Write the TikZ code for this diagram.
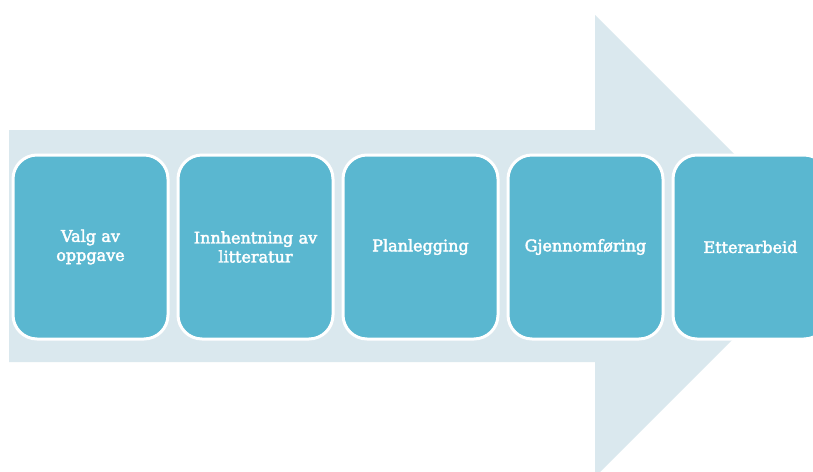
\documentclass[tikz,border=0pt]{standalone}
\usepackage{fontspec}
\setmainfont{DejaVu Serif}
\newfontfamily\boxfont[FakeBold=2.5]{DejaVu Serif}
\definecolor{arrowbg}{HTML}{DAE8EE}
\definecolor{boxfill}{HTML}{5AB7D0}
\begin{document}
\begin{tikzpicture}[x=1pt,y=-1pt,
  stepbox/.style={draw=white,line width=3pt,fill=boxfill,rounded corners=24pt,
    minimum width=155pt,minimum height=184pt,inner sep=0pt,anchor=north west,
    text=white,align=center,font=\boxfont\fontsize{16pt}{19pt}\selectfont,text width=150pt}]
\useasboundingbox (0,0) rectangle (813,471);
\clip (0,0) rectangle (813,471);
\fill[white] (0,0) rectangle (813,471);
\fill[arrowbg] (9,130) -- (595,130) -- (595,15) -- (826,246) -- (595,477) -- (595,362) -- (9,362) -- cycle;
\node[stepbox] (s1) at (11.5,153.5) {Valg av\\oppgave};
\node[stepbox] (s2) at (176.5,153.5) {Innhentning av\\litteratur};
\node[stepbox] (s3) at (341.5,153.5) {Planlegging};
\node[stepbox] (s4) at (506.5,153.5) {Gjennomføring};
\node[stepbox] (s5) at (671.5,153.5) {Etterarbeid};
\end{tikzpicture}
\end{document}
